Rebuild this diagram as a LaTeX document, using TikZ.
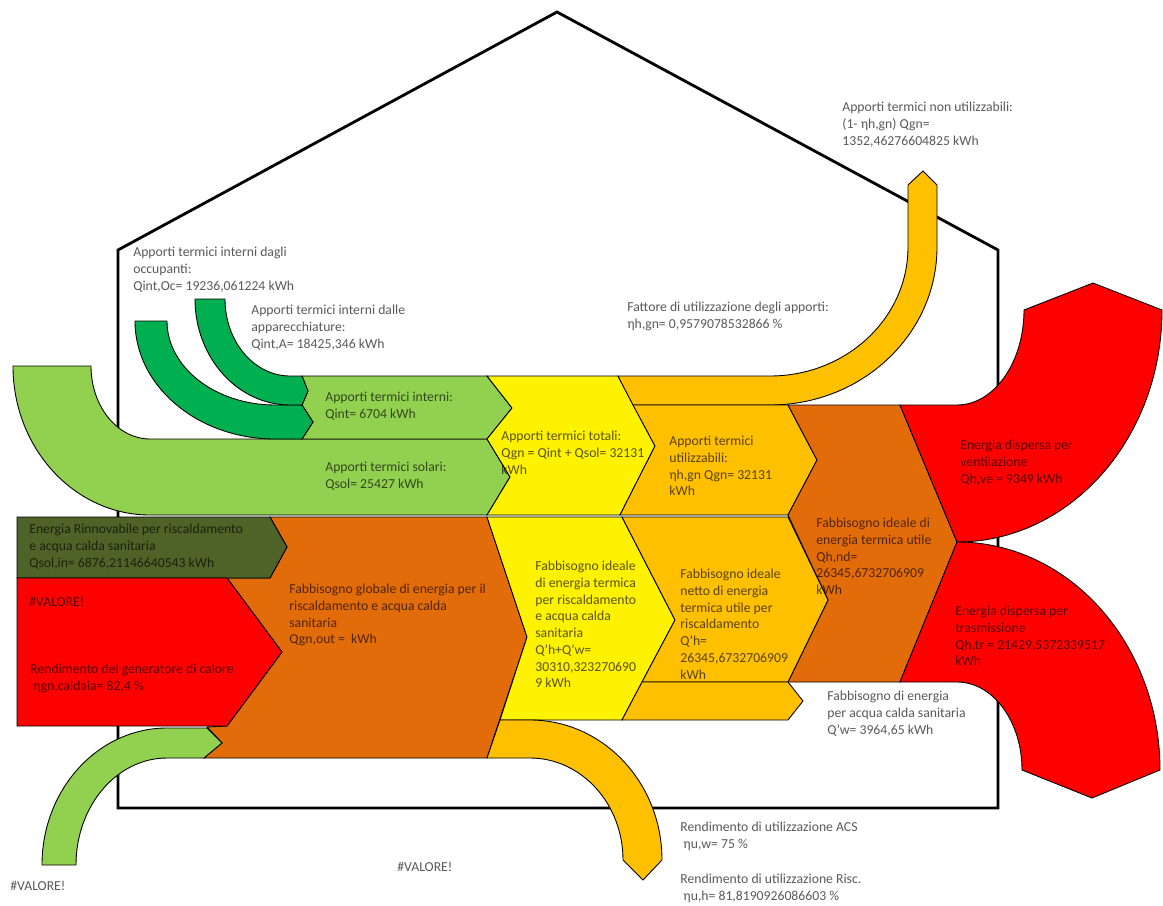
\documentclass[tikz,border=0pt]{standalone}
\usepackage{fontspec}
\setmainfont{Carlito}
\definecolor{lgreen}{HTML}{92D050}
\definecolor{dgreen}{HTML}{00B050}
\definecolor{olive}{HTML}{4F6228}
\definecolor{gold}{HTML}{FFC000}
\definecolor{burnt}{HTML}{E36C0A}
\begin{document}
\begin{tikzpicture}[x=0.02cm, y=-0.02cm, band/.style={draw=black, line width=0.5pt}, lbl/.style={anchor=north west, inner sep=0pt, align=left, font=\fontsize{7.8}{9.5}\selectfont, text=black, text opacity=0.65}]
	\useasboundingbox (0,0) rectangle (1163,906);
	\coordinate (roof) at (557,12); \coordinate (eaveL) at (118,250); \coordinate (eaveR) at (998,250); \coordinate (footL) at (118,808); \coordinate (footR) at (998,808);
	\draw[line width=1.6pt] (footL) -- (eaveL) -- (roof) -- (eaveR) -- (footR) -- cycle;

	% upper row: gains
	\draw[band, fill=lgreen] (13,366) -- (91,366) arc[start angle=180, end angle=90, x radius=59, y radius=73] -- (487,439) -- (510,477) -- (487,515) -- (150,515) arc[start angle=90, end angle=180, x radius=137, y radius=149] -- cycle;
	\draw[band, fill=lgreen] (302,376) -- (487,376) -- (512,408) -- (487,439) -- (302,439) -- (313,422) -- (302,405) -- (308,391) -- cycle;
	\draw[band, fill=dgreen] (135,321) -- (167,321) arc[start angle=180, end angle=90, x radius=108, y radius=84] -- (302,405) -- (313,422) -- (302,439) -- (275,439) arc[start angle=90, end angle=180, x radius=140, y radius=118] -- cycle;
	\draw[band, fill=dgreen] (195,299) -- (225,299) arc[start angle=180, end angle=90, x radius=65, y radius=77] -- (302,376) -- (308,391) -- (302,405) -- (290,405) arc[start angle=90, end angle=180, x radius=95, y radius=106] -- cycle;
	\draw[band, fill=yellow] (487,376) -- (618,376) -- (655,446) -- (620,515) -- (487,515) -- (510,477) -- (487,439) -- (512,408) -- cycle;
	\draw[band, fill=gold] (618,376) -- (770,376) arc[start angle=90, end angle=0, x radius=138, y radius=129] -- (908,185) -- (923,171) -- (937,185) -- (937,247) arc[start angle=0, end angle=90, x radius=167, y radius=158] -- (633,405) -- cycle;
	\draw[band, fill=gold] (633,405) -- (788,405) -- (817,460) -- (788,515) -- (620,515) -- (655,446) -- cycle;
	\draw[band, fill=burnt] (788,405) -- (900,405) -- (957,542) -- (900,682) -- (788,682) -- (828,600) -- (788,515) -- (817,460) -- cycle;
	\draw[band, fill=red] (900,405) -- (957,405) arc[start angle=90, end angle=0, x radius=67, y radius=95] -- (1093,283) -- (1162,310) arc[start angle=0, end angle=90, x radius=205, y radius=232] -- cycle;
	\draw[band, fill=red] (957,542) arc[start angle=-90, end angle=0, x radius=203, y radius=228] -- (1092,798) -- (1022,770) arc[start angle=0, end angle=-90, x radius=65, y radius=88] -- (900,682) -- cycle;

	% lower row: demand
	\draw[band, fill=burnt] (270,517) -- (487,517) -- (527,637) -- (487,758) -- (204,758) -- (222,743) -- (207,727) -- (227,726) -- (282,652) -- (227,578) -- (270,578) -- (287,547) -- cycle;
	\draw[band, fill=olive] (17,517) -- (270,517) -- (287,547) -- (270,578) -- (17,578) -- cycle;
	\draw[band, fill=red] (17,578) -- (227,578) -- (282,652) -- (227,726) -- (17,726) -- cycle;
	\draw[band, fill=lgreen] (42,865) arc[start angle=180, end angle=270, x radius=125, y radius=137] -- (207,728) -- (222,743) -- (204,758) -- (167,758) arc[start angle=270, end angle=180, x radius=91, y radius=107] -- cycle;
	\draw[band, fill=yellow] (487,517) -- (622,517) -- (675,620) -- (622,720) -- (500,720) -- (527,637) -- cycle;
	\draw[band, fill=gold] (622,517) -- (788,517) -- (828,600) -- (788,682) -- (642,682) -- (675,620) -- cycle;
	\draw[band, fill=gold] (642,682) -- (788,682) -- (803,701) -- (788,720) -- (622,720) -- cycle;
	\draw[band, fill=gold] (500,720) -- (530,720) arc[start angle=-90, end angle=0, x radius=132, y radius=140] -- (643,880) -- (623,860) arc[start angle=0, end angle=-90, x radius=93, y radius=102] -- (487,758) -- cycle;

	% labels
	\node[lbl] (qocc) at (133,247) {Apporti termici interni dagli\\occupanti:\\Qint,Oc= 19236,061224 kWh};
	\node[lbl] (qapp) at (251,305) {Apporti termici interni dalle\\apparecchiature:\\Qint,A= 18425,346 kWh};
	\node[lbl] (qint) at (325,392) {Apporti termici interni:\\Qint= 6704 kWh};
	\node[lbl] (qsol) at (325,462) {Apporti termici solari:\\Qsol= 25427 kWh};
	\node[lbl] (qgn) at (501,431) {Apporti termici totali:\\Qgn = Qint + Qsol= 32131\\kWh};
	\node[lbl] (qutil) at (669,436) {Apporti termici\\utilizzabili:\\ηh,gn Qgn= 32131\\kWh};
	\node[lbl] (eta) at (627,302) {Fattore di utilizzazione degli apporti:\\ηh,gn= 0,9579078532866 \%};
	\node[lbl] (qnon) at (842,102) {Apporti termici non utilizzabili:\\(1- ηh,gn) Qgn=\\1352,46276604825 kWh};
	\node[lbl] (qve) at (960,440) {Energia dispersa per\\ventilazione\\Qh,ve = 9349 kWh};
	\node[lbl] (qnd) at (816,518) {Fabbisogno ideale di\\energia termica utile\\Qh,nd=\\26345,6732706909\\kWh};
	\node[lbl] (qren) at (29,524) {Energia Rinnovabile per riscaldamento\\e acqua calda sanitaria\\Qsol,in= 6876,21146640543 kWh};
	\node[lbl] (err1) at (29,597) {\#VALORE!};
	\node[lbl] (etagn) at (30,664) {Rendimento del generatore di calore\\\ ηgn,caldaia= 82,4 \%};
	\node[lbl] (qout) at (289,584) {Fabbisogno globale di energia per il\\riscaldamento e acqua calda\\sanitaria\\Qgn,out =\ \ kWh};
	\node[lbl] (qhw) at (535,561) {Fabbisogno ideale\\di energia termica\\per riscaldamento\\e acqua calda\\sanitaria\\Q'h+Q'w=\\30310,323270690\\9 kWh};
	\node[lbl] (qh) at (680,569) {Fabbisogno ideale\\netto di energia\\termica utile per\\riscaldamento\\Q'h=\\26345,6732706909\\kWh};
	\node[lbl] (qtr) at (955,606) {Energia dispersa per\\trasmissione\\Qh,tr = 21429,5372339517\\kWh};
	\node[lbl] (qw) at (827,691) {Fabbisogno di energia\\per acqua calda sanitaria\\Q'w= 3964,65 kWh};
	\node[lbl] (etaw) at (680,822) {Rendimento di utilizzazione ACS\\\ ηu,w= 75 \%};
	\node[lbl] (etah) at (680,874) {Rendimento di utilizzazione Risc.\\\ ηu,h= 81,8190926086603 \%};
	\node[lbl] (err2) at (397,862) {\#VALORE!};
	\node[lbl] (err3) at (10,881) {\#VALORE!};
\end{tikzpicture}
\end{document}
